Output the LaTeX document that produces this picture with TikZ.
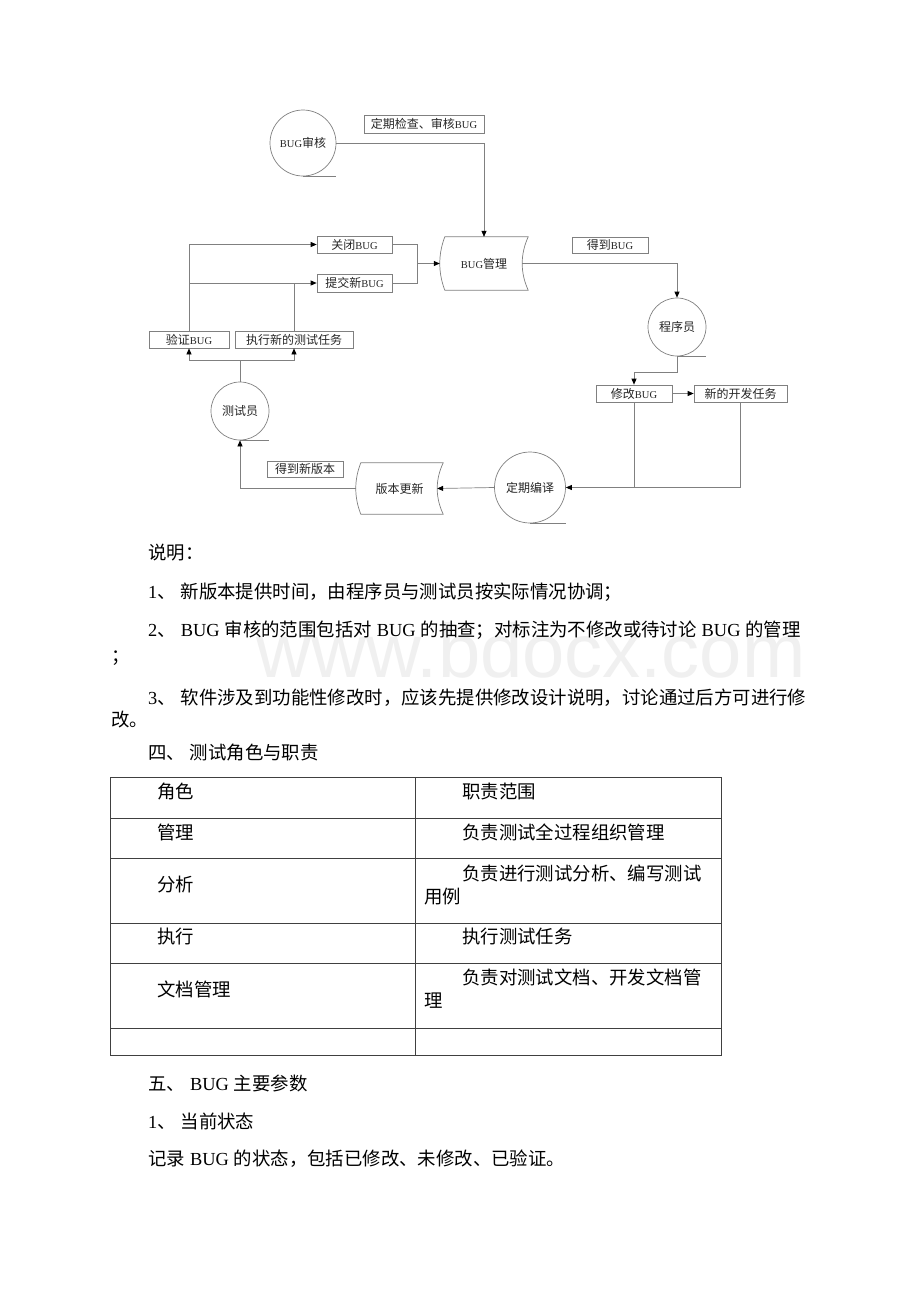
\documentclass[tikz,border=0pt]{standalone}
\usepackage{fontspec}
\setmainfont{Noto Sans CJK SC}
\newfontfamily\tmfont{Liberation Serif}
\newfontfamily\wmfont{Liberation Sans}
\newcommand\tm[1]{{\tmfont #1}}
\newcommand\latsp{\hspace{5pt}}
\newcommand\numgap{\hspace{5pt}}
\newcommand\dbug{{\tmfont\fontsize{10.5}{10.5}\selectfont BUG}}
\usetikzlibrary{arrows.meta,calc}
\tikzset{
 ln/.style={draw=black!50, line width=0.7pt},
 arr/.style={ln, -{Triangle[length=6pt,width=5pt,color=black]}},
 box/.style={ln, rectangle, inner sep=0pt, text=black!85, font=\fontsize{12}{12}\selectfont},
 circ/.style={ln, circle, inner sep=0pt, text=black!85, font=\fontsize{12}{12}\selectfont},
 store/.style={inner sep=0pt, text=black!85, font=\fontsize{12}{12}\selectfont},
 body/.style={anchor=west, inner sep=0pt, font=\fontsize{18.4}{18.4}\selectfont},
 tline/.style={draw=black!75, line width=1pt},
}
\newcommand\storeborder[1]{%
 \draw[ln] ([xshift=5pt]#1.north west) -- (#1.north east)
 .. controls ($(#1.north east)!0.33!(#1.south east)+(-8,0)$) and ($(#1.north east)!0.67!(#1.south east)+(-8,0)$) .. (#1.south east)
 -- ([xshift=5pt]#1.south west)
 .. controls ($(#1.south west)!0.33!(#1.north west)+(-1.7,0)$) and ($(#1.south west)!0.67!(#1.north west)+(-1.7,0)$) .. cycle;}
\newcommand\tailline[1]{\draw[ln] (#1.south) -- (#1.south -| #1.east);}
\begin{document}
\begin{tikzpicture}[x=1pt,y=-1pt]
\useasboundingbox[fill=white] (0,0) rectangle (920,1302);

% watermark
\node[font=\wmfont\fontsize{76}{76}\selectfont, text=black!6, inner sep=0pt] (wm) at (531,650) {www.bdocx.com};

% ---------- diagram ----------
\node[circ, minimum size=66pt] (rev) at (303,143) {\dbug 审核};
\node[circ, minimum size=58pt] (prog) at (677,327) {程序员};
\node[circ, minimum size=58pt] (tester) at (240,411) {测试员};
\node[circ, minimum size=71pt] (comp) at (530,487.5) {定期编译};
\tailline{rev}\tailline{prog}\tailline{tester}\tailline{comp}

\node[store, minimum width=88pt, minimum height=53pt] (mgmt) at (484,263.5) {\dbug 管理};
\storeborder{mgmt}
\node[store, minimum width=87pt, minimum height=51pt] (ver) at (399.5,488.5) {版本更新};
\storeborder{ver}

\node[box, minimum width=120pt, minimum height=18pt] (lab1) at (424,124) {定期检查、审核\dbug};
\node[box, minimum width=75pt, minimum height=17pt] (close) at (354.5,244.5) {关闭\dbug};
\node[box, minimum width=75pt, minimum height=18pt] (submit) at (354.5,283) {提交新\dbug};
\node[box, minimum width=80pt, minimum height=17pt] (verify) at (189,339.5) {验证\dbug};
\node[box, minimum width=118pt, minimum height=17pt] (exec) at (294,339.5) {执行新的测试任务};
\node[box, minimum width=76pt, minimum height=16pt] (getbug) at (610,245) {得到\dbug};
\node[box, minimum width=76pt, minimum height=17pt] (fix) at (634,393.5) {修改\dbug};
\node[box, minimum width=93pt, minimum height=17pt] (newdev) at (740.5,393.5) {新的开发任务};
\node[box, minimum width=76pt, minimum height=16pt] (getver) at (305,469) {得到新版本};

% connectors
\draw[arr] (rev.east) -| (mgmt.north);
\draw[arr] ([xshift=-6pt]mgmt.east) -| (prog.north);
\draw[arr] (prog.south) -- ++(0,16) -| (fix.north);
\draw[arr] (fix.east) -- (newdev.west);
\draw[ln] (fix.south) -- (fix.south |- comp.east);
\draw[arr] (newdev.south) |- (comp.east);
\draw[arr] (comp.west) -- ([xshift=-6pt]ver.east);
\draw[arr] (ver.west) -| (tester.south);
\coordinate (j) at (240,360);
\draw[ln] (tester.north) -- (j);
\draw[arr] (j) -| (verify.south);
\draw[arr] (j) -| (exec.south);
\draw[arr] (verify.north) |- (close.west);
\draw[arr] (verify.north |- submit.west) -- (submit.west);
\draw[ln] (exec.north) -- (exec.north |- submit.west);
\coordinate (m) at (417,263.5);
\draw[ln] (close.east) -| (m);
\draw[ln] (submit.east) -| (m);
\draw[arr] (m) -- (mgmt.west);

% ---------- text ----------
\node[body] (t0) at (148,553) {说明：};
\node[body] (t1) at (148,592) {\tm{1}、\numgap 新版本提供时间，由程序员与测试员按实际情况协调；};
\node[body] (t2) at (148,630) {\tm{2}、\numgap\tm{BUG}\latsp 审核的范围包括对\latsp\tm{BUG}\latsp 的抽查；对标注为不修改或待讨论\latsp\tm{BUG}\latsp 的管理};
\node[body] (t2b) at (111,658) {；};
\node[body] (t3) at (148,698) {\tm{3}、\numgap 软件涉及到功能性修改时，应该先提供修改设计说明，讨论通过后方可进行修};
\node[body] (t3b) at (111,720) {改。};
\node[body] (h4) at (148,753) {四、\numgap 测试角色与职责};

% table
\draw[tline] (110,777) rectangle (721,1055);
\draw[tline] (415,777) -- (415,1055);
\foreach \yy in {818,858,923,963,1028} \draw[tline] (110,\yy) -- (721,\yy);
\node[body] (r0a) at (157,792) {角色};
\node[body] (r0b) at (462,792) {职责范围};
\node[body] (r1a) at (157,832) {管理};
\node[body] (r1b) at (462,832) {负责测试全过程组织管理};
\node[body] (r2a) at (157,885) {分析};
\node[body] (r2b) at (462,873) {负责进行测试分析、编写测试};
\node[body] (r2c) at (424,897) {用例};
\node[body] (r3a) at (157,937) {执行};
\node[body] (r3b) at (462,937) {执行测试任务};
\node[body] (r4a) at (157,989) {文档管理};
\node[body] (r4b) at (462,977) {负责对测试文档、开发文档管};
\node[body] (r4c) at (424,1001) {理};

\node[body] (h5) at (148,1083) {五、\numgap\tm{BUG}\latsp 主要参数};
\node[body] (s1) at (148,1121) {\tm{1}、\numgap 当前状态};
\node[body] (s1t) at (148,1159) {记录\latsp\tm{BUG}\latsp 的状态，包括已修改、未修改、已验证。};
\end{tikzpicture}
\end{document}
